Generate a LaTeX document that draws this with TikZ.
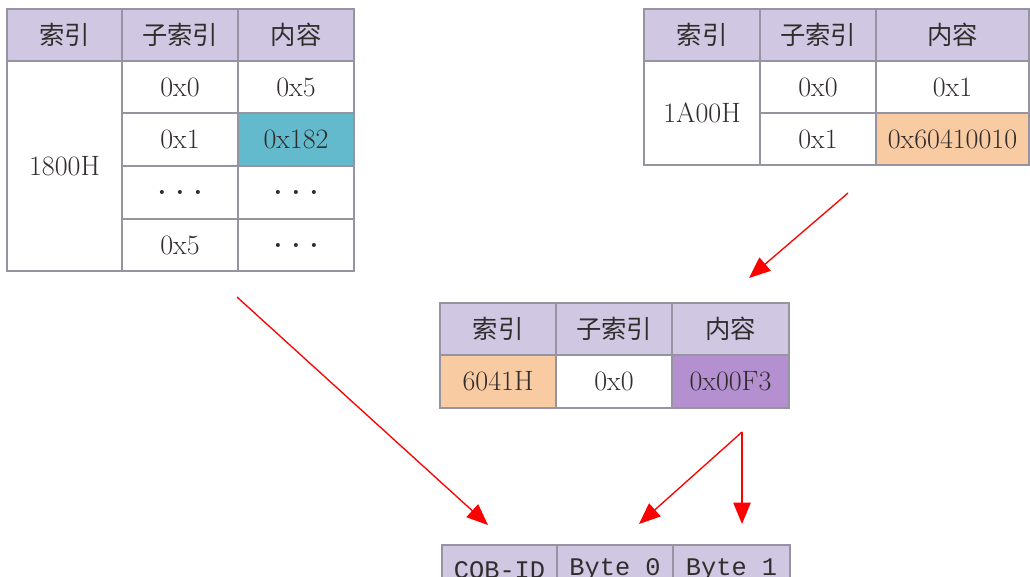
\documentclass[tikz,border=0pt]{standalone}
\usepackage{fontspec}
\newfontfamily\cjk{Noto Sans CJK SC}
\newfontfamily\monof{Liberation Mono}
\usetikzlibrary{arrows.meta}
\definecolor{hdr}{RGB}{208,200,226}
\definecolor{teal}{RGB}{99,186,205}
\definecolor{peach}{RGB}{249,203,163}
\definecolor{lilac}{RGB}{180,144,208}
\definecolor{grid}{RGB}{150,148,160}
\definecolor{ink}{RGB}{50,45,45}
\tikzset{
  cell/.style={draw=grid, line width=0.8pt, inner sep=0pt, text=ink, font=\fontsize{21}{22}\selectfont},
  hcell/.style={cell, fill=hdr, font=\cjk\fontsize{19}{20}\selectfont},
  mcell/.style={cell, fill=hdr, font=\monof\fontsize{19}{20}\selectfont},
  redarrow/.style={draw=red, line width=1pt, -{Triangle[length=16pt,width=13pt]}}
}
% #1 name, #2 x1, #3 y1, #4 x2, #5 y2, #6 style, #7 text
\newcommand\mkcell[7]{\node[#6, minimum width={(#4-#2)*0.75pt}, minimum height={(#5-#3)*0.75pt}] (#1) at ({(#2+#4)/2},{(#3+#5)/2}) {#7};}
\begin{document}
\begin{tikzpicture}[x=0.75pt,y=-0.75pt]
\useasboundingbox (0,0) rectangle (1030,577);
\clip (0,0) rectangle (1030,577);
\fill[white] (0,0) rectangle (1030,577);
% Table 1
\mkcell{ah1}{7}{9}{122}{61}{hcell}{索引}
\mkcell{ah2}{122}{9}{238}{61}{hcell}{子索引}
\mkcell{ah3}{238}{9}{354}{61}{hcell}{内容}
\mkcell{aidx}{7}{61}{122}{271}{cell}{1800H}
\mkcell{as1}{122}{61}{238}{113}{cell}{0x0}
\mkcell{ac1}{238}{61}{354}{113}{cell}{0x5}
\mkcell{as2}{122}{113}{238}{166}{cell}{0x1}
\mkcell{ac2}{238}{113}{354}{166}{cell,fill=teal}{0x182}
\mkcell{as3}{122}{166}{238}{219}{cell}{\textbf{.\,\,.\,\,.}}
\mkcell{ac3}{238}{166}{354}{219}{cell}{\textbf{.\,\,.\,\,.}}
\mkcell{as4}{122}{219}{238}{271}{cell}{0x5}
\mkcell{ac4}{238}{219}{354}{271}{cell}{\textbf{.\,\,.\,\,.}}
% Table 2
\mkcell{bh1}{644}{9}{760}{61}{hcell}{索引}
\mkcell{bh2}{760}{9}{876}{61}{hcell}{子索引}
\mkcell{bh3}{876}{9}{1029}{61}{hcell}{内容}
\mkcell{bidx}{644}{61}{760}{165}{cell}{1A00H}
\mkcell{bs1}{760}{61}{876}{113}{cell}{0x0}
\mkcell{bc1}{876}{61}{1029}{113}{cell}{0x1}
\mkcell{bs2}{760}{113}{876}{165}{cell}{0x1}
\mkcell{bc2}{876}{113}{1029}{165}{cell,fill=peach}{0x60410010}
% Table 3
\mkcell{ch1}{440}{303}{556}{355}{hcell}{索引}
\mkcell{ch2}{556}{303}{672}{355}{hcell}{子索引}
\mkcell{ch3}{672}{303}{789}{355}{hcell}{内容}
\mkcell{cidx}{440}{355}{556}{408}{cell,fill=peach}{6041H}
\mkcell{cs1}{556}{355}{672}{408}{cell}{0x0}
\mkcell{cc1}{672}{355}{789}{408}{cell,fill=lilac}{0x00F3}
% Table 4 (cut off)
\mkcell{d1}{442}{545}{557}{595}{mcell}{COB-ID}
\mkcell{d2}{557}{545}{673}{595}{mcell}{Byte 0}
\mkcell{d3}{673}{545}{790}{595}{mcell}{Byte 1}
% arrow anchors
\coordinate (p1) at (237,297);
\coordinate (q1) at (488,525);
\coordinate (p2) at (848,193);
\coordinate (q2) at (749,278);
\coordinate (p3) at (742,432);
\coordinate (q3) at (639,524);
\coordinate (q4) at (742,524);
\draw[redarrow] (p1) -- (q1);
\draw[redarrow] (p2) -- (q2);
\draw[redarrow] (p3) -- (q3);
\draw[redarrow] (p3) -- (q4);
\end{tikzpicture}
\end{document}
